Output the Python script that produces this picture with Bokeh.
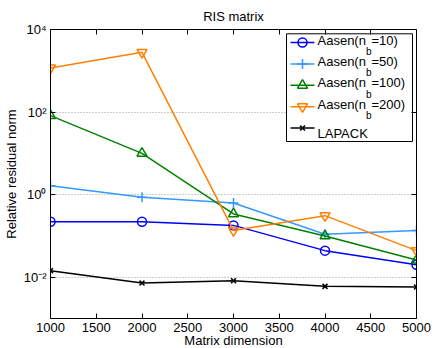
import math
from bokeh.plotting import figure
from bokeh.models import (LogAxis, LinearAxis, FixedTicker, CustomJSTickFormatter, Range1d)
from bokeh.core.properties import value
from bokeh.embed import file_html
from bokeh.resources import INLINE

# ---------------- data ----------------
sizes = [1000, 2000, 3000, 4000, 5000]
aasen_nb10 = [0.22, 0.22, 0.18, 0.044, 0.020]
aasen_nb50 = [1.65, 0.86, 0.63, 0.11, 0.135]
aasen_nb100 = [82, 10, 0.34, 0.10, 0.026]
aasen_nb200 = [1170, 2800, 0.135, 0.31, 0.044]
lapack = [0.0144, 0.0072, 0.0082, 0.0060, 0.0058]
nb_values = [10, 50, 100, 200]
legend_names = ["Aasen(n", "Aasen(n", "Aasen(n", "Aasen(n", "LAPACK"]
x_ticks = [1000, 1500, 2000, 2500, 3000, 3500, 4000, 4500, 5000]
y_ticks = [1e-2, 1e0, 1e2, 1e4]
X0, X1 = 1000, 5000
Y0, Y1 = 1e-3, 1e4

FONT = "Liberation Sans"
FS = 13

FW, FH = 366, 289
p = figure(frame_width=FW, frame_height=FH, y_axis_type="log",
           x_range=Range1d(X0, X1), y_range=Range1d(Y0, Y1),
           output_backend="svg", toolbar_location=None, title="RIS matrix",
           min_border_left=45, min_border_right=15, min_border_top=29,
           min_border_bottom=26)
p.outline_line_color = None
p.background_fill_color = "white"

p.title.align = "center"
p.title.text_font = FONT
p.title.text_font_size = f"{FS}px"
p.title.text_font_style = "normal"
p.title.text_color = "black"
p.title.standoff = 12

sup_code = """
const e = Math.round(Math.log10(tick));
const sup = {"0":"\u2070","1":"\u00b9","2":"\u00b2","3":"\u00b3","4":"\u2074","5":"\u2075",
             "6":"\u2076","7":"\u2077","8":"\u2078","9":"\u2079","-":"\u207b"};
return "10" + String(e).split("").map(c => sup[c]).join("");
"""

def style_axis(ax):
    ax.axis_line_color = "black"
    ax.axis_line_width = 1
    ax.major_tick_in = 5
    ax.major_tick_out = 0
    ax.major_tick_line_color = "black"
    ax.minor_tick_line_color = None
    ax.major_label_text_font = FONT
    ax.major_label_text_font_size = f"{FS}px"
    ax.major_label_text_color = "black"
    ax.axis_label_text_font = FONT
    ax.axis_label_text_font_size = f"{FS}px"
    ax.axis_label_text_font_style = "normal"
    ax.axis_label_text_color = "black"

xa = p.xaxis[0]
ya = p.yaxis[0]
xa.ticker = FixedTicker(ticks=x_ticks)
ya.ticker = FixedTicker(ticks=y_ticks)
ya.formatter = CustomJSTickFormatter(code=sup_code)
style_axis(xa)
style_axis(ya)
xa.axis_label = "Matrix dimension"
ya.axis_label = "Relative residual norm"
xa.major_label_standoff = 4
xa.axis_label_standoff = -2
ya.major_label_standoff = 4
ya.axis_label_standoff = 2

top = LinearAxis(ticker=FixedTicker(ticks=x_ticks),
                 formatter=CustomJSTickFormatter(code="return ''"))
right = LogAxis(ticker=FixedTicker(ticks=y_ticks),
                formatter=CustomJSTickFormatter(code="return ''"))
for ax in (top, right):
    style_axis(ax)
    ax.major_label_text_font_size = "0px"
    ax.major_label_standoff = 0
p.add_layout(top, "above")
p.add_layout(right, "right")

p.xgrid.visible = False
p.ygrid.ticker = FixedTicker(ticks=y_ticks)
p.ygrid.grid_line_color = "#9a9a9a"
p.ygrid.grid_line_dash = "1 2"
p.ygrid.grid_line_width = 1

series = [
    (aasen_nb10, "#0000ff", "circle", 9),
    (aasen_nb50, "#3399ff", "cross", 10),
    (aasen_nb100, "#008000", "triangle", 10),
    (aasen_nb200, "#ff8000", "inverted_triangle", 10),
    (lapack, "#000000", "x", 7),
]

for vals, color, marker, size in series:
    p.line(sizes, vals, line_color=color, line_width=1.5)
    p.scatter(sizes, vals, marker=marker, size=size, line_color=color,
              fill_color=None, line_width=1.5)

# ---------------- hand-built legend (frame pixel layout -> data coords) ----------------
def px_to_x(px):
    return X0 + px / FW * (X1 - X0)

def py_to_y(py_from_top):
    ly0, ly1 = math.log10(Y0), math.log10(Y1)
    return 10 ** (ly1 - py_from_top / FH * (ly1 - ly0))

ARIAL = {"A": .667, "a": .556, "s": .5, "e": .556, "n": .556, "(": .333, "b": .556}
def text_w(s, fs):
    return sum(ARIAL.get(c, .556) for c in s) * fs

LEG_L, LEG_R, LEG_T, LEG_B = 236, 362, 4.3, 112
ROW0, ROW_H = 13, 21.4
GL0, GL1, TX = 240, 264, 267
SUB_FS = 10

p.quad(left=[px_to_x(LEG_L)], right=[px_to_x(LEG_R)],
       top=[py_to_y(LEG_T)], bottom=[py_to_y(LEG_B)],
       fill_color="white", line_color="black", line_width=1)

main_x, main_y, main_t = [], [], []
sub_x, sub_y, sub_t = [], [], []
for i, (vals, color, marker, size) in enumerate(series):
    cy = ROW0 + i * ROW_H
    p.line([px_to_x(GL0), px_to_x(GL1)], [py_to_y(cy), py_to_y(cy)],
           line_color=color, line_width=1.5)
    p.scatter([px_to_x((GL0 + GL1) / 2)], [py_to_y(cy)], marker=marker, size=size,
              line_color=color, fill_color=None, line_width=1.5)
    if i < len(nb_values):
        base = cy - 2.5
        main_x.append(px_to_x(TX)); main_y.append(py_to_y(base)); main_t.append(legend_names[i])
        bx = TX + text_w(legend_names[i], FS)
        sub_x.append(px_to_x(bx)); sub_y.append(py_to_y(base + 11.5)); sub_t.append("b")
        rx = bx + text_w("b", SUB_FS)
        main_x.append(px_to_x(rx)); main_y.append(py_to_y(base)); main_t.append(f"={nb_values[i]})")
    else:
        main_x.append(px_to_x(TX)); main_y.append(py_to_y(cy + 5)); main_t.append(legend_names[i])

p.text(x=main_x, y=main_y, text=main_t, text_font=value(FONT),
       text_font_size=value(f"{FS}px"), text_baseline="alphabetic",
       text_align="left", text_color="black")
p.text(x=sub_x, y=sub_y, text=sub_t, text_font=value(FONT),
       text_font_size=value(f"{SUB_FS}px"), text_baseline="alphabetic",
       text_align="left", text_color="black")

open("out.html", "w").write(file_html(p, INLINE))
